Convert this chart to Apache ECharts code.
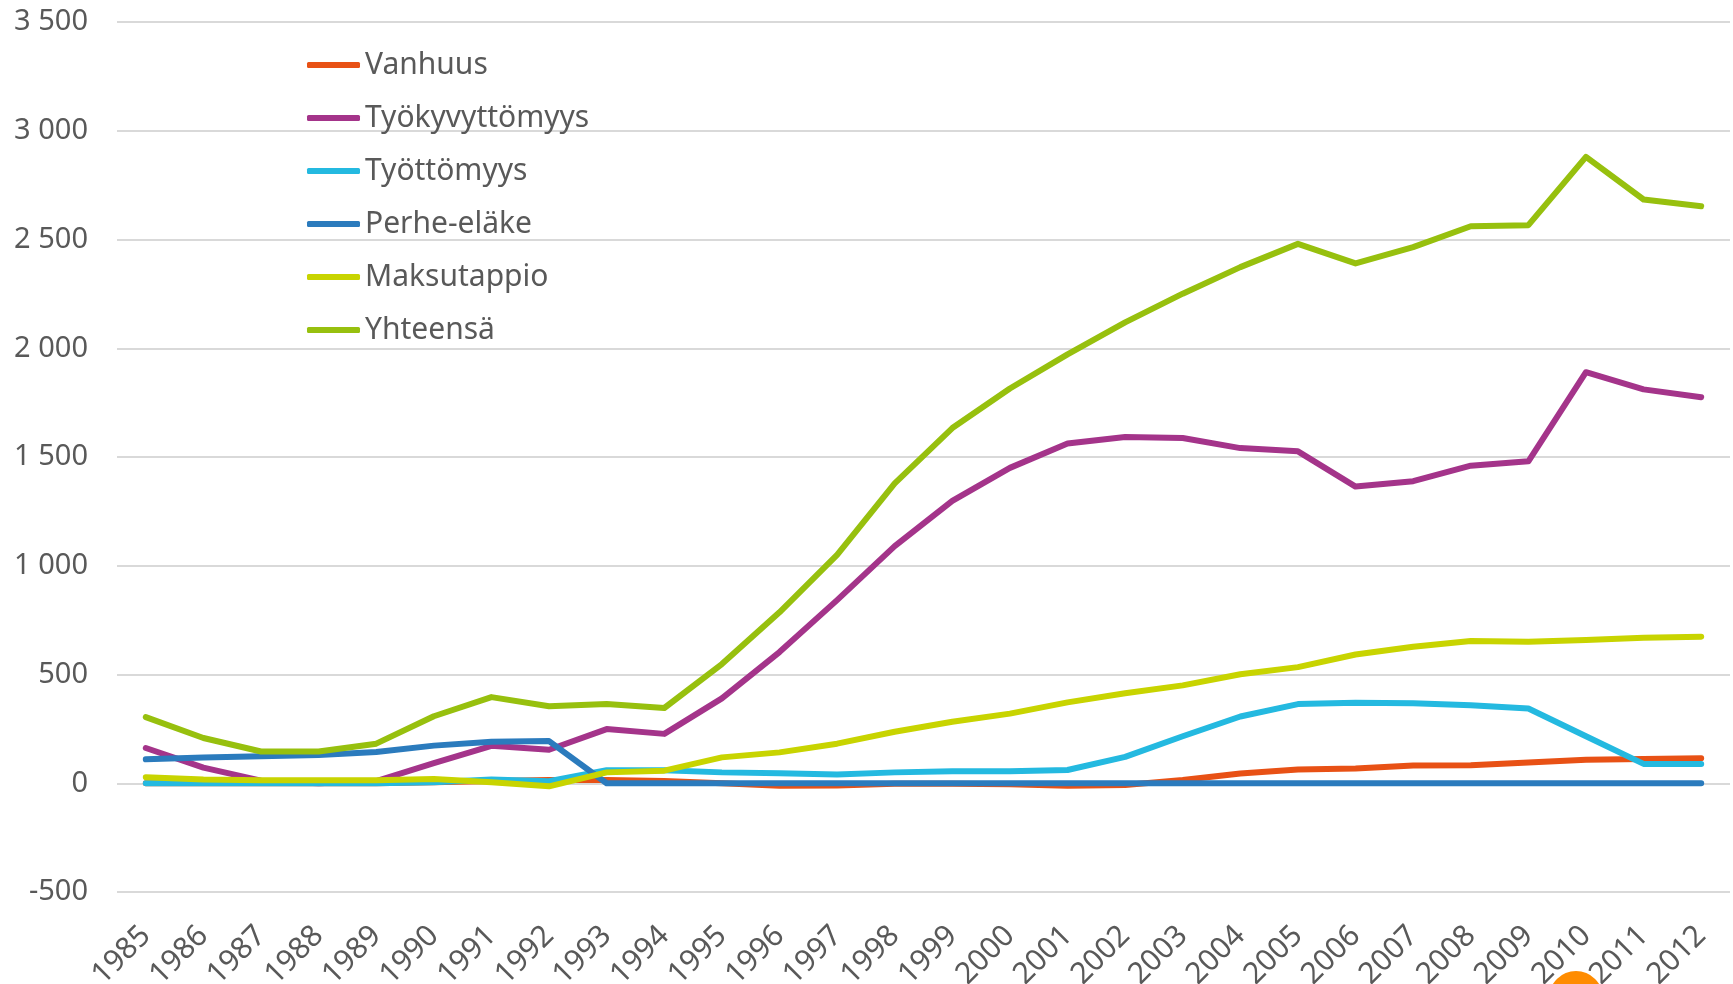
<!DOCTYPE html>
<html>
<head>
<meta charset="utf-8">
<script src="https://cdn.jsdelivr.net/npm/echarts@6/dist/echarts.min.js"></script>
<style>
  html, body { margin: 0; padding: 0; background: #ffffff; }
  #chart { width: 1733px; height: 984px; }
</style>
</head>
<body>
<div id="chart"></div>
<script>
const years = ['1985','1986','1987','1988','1989','1990','1991','1992','1993','1994','1995','1996','1997','1998','1999','2000','2001','2002','2003','2004','2005','2006','2007','2008','2009','2010','2011','2012'];

const vanhuus = [0, 0, 0, 0, 0, 5, 10, 15, 15, 10, 0, -12, -10, -2, -2, -5, -12, -8, 15, 45, 63, 68, 82, 83, 95, 108, 112, 115];
const tyokyvyttomyys = [162, 72, 12, 0, 10, 92, 172, 154, 249, 227, 390, 603, 842, 1090, 1298, 1450, 1562, 1592, 1587, 1541, 1526, 1364, 1389, 1460, 1480, 1890, 1811, 1775];
const tyottomyys = [0, 0, 0, 0, 0, 5, 17, 9, 60, 60, 50, 46, 40, 50, 55, 55, 61, 121, 216, 307, 364, 370, 368, 359, 344, 216, 89, 89];
const perheelake = [110, 118, 124, 130, 144, 173, 191, 194, 0, 0, 0, 0, 0, 0, 0, 0, 0, 0, 0, 0, 0, 0, 0, 0, 0, 0, 0, 0];
const maksutappio = [28, 17, 14, 14, 14, 20, 5, -14, 50, 58, 119, 142, 182, 237, 283, 320, 372, 414, 450, 501, 534, 592, 628, 654, 651, 659, 669, 674];
const yhteensa = [304, 208, 146, 146, 182, 308, 396, 354, 364, 346, 548, 786, 1050, 1379, 1633, 1815, 1972, 2119, 2251, 2373, 2480, 2390, 2465, 2561, 2566, 2880, 2684, 2653];

const seriesNames = ['Vanhuus', 'Työkyvyttömyys', 'Työttömyys', 'Perhe-eläke', 'Maksutappio', 'Yhteensä'];
const seriesData = [vanhuus, tyokyvyttomyys, tyottomyys, perheelake, maksutappio, yhteensa];
const colors = ['#E85115', '#A4348A', '#24B9E0', '#2B7BBD', '#C8D400', '#97C00E'];

const font = '"Noto Sans", "Liberation Sans", sans-serif';
const textColor = '#595959';

const chart = echarts.init(document.getElementById('chart'), null, { renderer: 'canvas' });

chart.setOption({
  animation: false,
  backgroundColor: '#ffffff',
  color: colors,
  grid: { left: 117, right: 3, top: 22, bottom: 92, containLabel: false, outerBoundsMode: 'none' },
  legend: {
    orient: 'vertical',
    left: 302,
    top: 43,
    icon: 'roundRect',
    itemWidth: 53,
    itemHeight: 6,
    itemGap: 19,
    data: seriesNames,
    textStyle: { fontFamily: font, fontSize: 30, color: textColor, lineHeight: 34 }
  },
  xAxis: {
    type: 'category',
    data: years,
    boundaryGap: true,
    axisLine: { show: false },
    axisTick: { show: false },
    axisLabel: {
      interval: 0,
      rotate: 45,
      margin: 39,
      fontFamily: font,
      fontSize: 30,
      color: textColor
    }
  },
  yAxis: {
    type: 'value',
    min: -500,
    max: 3500,
    interval: 500,
    axisLine: { show: false },
    axisTick: { show: false },
    splitLine: { lineStyle: { color: '#D9D9D9', width: 2 } },
    axisLabel: {
      margin: 29,
      fontFamily: font,
      fontSize: 29,
      color: textColor,
      formatter: function (v) {
        const s = String(Math.abs(v)).replace(/\B(?=(\d{3})+(?!\d))/g, ' ');
        return (v < 0 ? '-' : '') + s;
      }
    }
  },
  series: seriesNames.map(function (name, i) {
    return {
      name: name,
      type: 'line',
      data: seriesData[i],
      showSymbol: false,
      symbol: 'none',
      lineStyle: { width: 6, color: colors[i], cap: 'round', join: 'round' },
      itemStyle: { color: colors[i] }
    };
  }),
  graphic: [{
    type: 'circle',
    shape: { cx: 1576, cy: 998, r: 27 },
    style: { fill: '#FF8C00' },
    z: 100
  }]
});
</script>
</body>
</html>
